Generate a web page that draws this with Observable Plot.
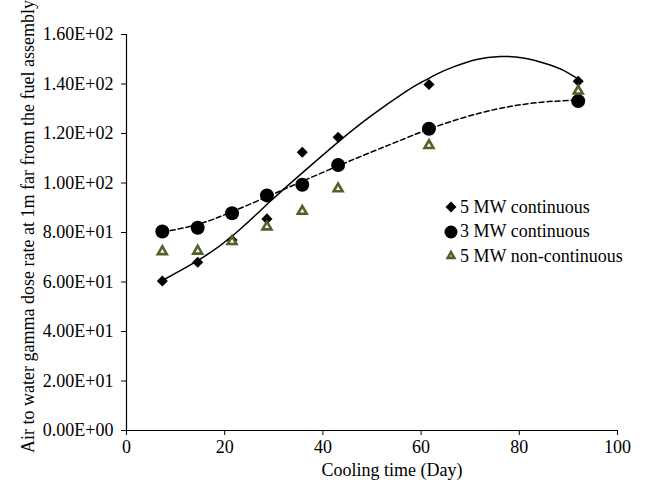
<!DOCTYPE html>
<html><head><meta charset="utf-8">
<script src="https://cdn.jsdelivr.net/npm/d3@7"></script>
<script src="https://cdn.jsdelivr.net/npm/@observablehq/plot@0.6"></script>
<style>
body{margin:0;background:#fff;}
#wrap{position:relative;width:656px;height:488px;font-family:'Liberation Serif',serif;}
#legend{position:absolute;left:444px;top:195px;font-size:18px;color:#000;font-family:'Liberation Serif',serif;}
.row{display:flex;align-items:center;height:24.5px;white-space:nowrap;}
.row svg{width:14px;height:14px;margin-right:2px;overflow:visible}
</style></head><body><div id="wrap"><div id="legend"></div></div>
<script>
// ---- data ----
const coolingDays = [7.3, 14.5, 21.5, 28.6, 35.8, 43.1, 61.6, 92];
const mw5Continuous = [60.4, 68.0, 77.0, 85.5, 112.4, 118.5, 139.8, 141.1];
const mw3Continuous = [80.4, 81.9, 87.8, 95.0, 99.3, 107.3, 121.9, 133.1];
const mw5NonContinuous = [72.3, 72.5, 76.4, 82.3, 88.6, 97.7, 115.2, 137.2];

// trend lines
const trend5cX = [7.3, 14.4, 21.5, 29.3, 36.1, 42.9, 49.6, 57.1, 60, 63.2, 66.6, 71.3, 76.1, 80.8, 85.6, 89, 92];
const trend5cY = [60.6, 68.5, 78.5, 92.6, 104.6, 116.2, 126.8, 137.2, 140.6, 144.0, 146.9, 149.9, 151.1, 150.5, 148.1, 145.5, 142.0];
const trend3cX = [7.3, 14.4, 21.5, 29.3, 35.7, 43.2, 50, 55, 61.2, 68.6, 75, 80.2, 86, 92];
const trend3cY = [80.2, 83.2, 88.4, 95.0, 100.6, 107.0, 112.6, 116.6, 121.5, 126.4, 129.7, 131.6, 132.9, 133.4];

const seriesNames = ["5 MW continuous", "3 MW continuous", "5 MW non-continuous"];
const xTicks = [0, 20, 40, 60, 80, 100];
const yTicks = [0, 20, 40, 60, 80, 100, 120, 140, 160];
const xLabel = "Cooling time (Day)";
const yLabel = "Air to water gamma dose rate at 1m far from the fuel assembly";

const serif = "'Liberation Serif', serif";
const olive = "#4f6228";
function sci(v) {
  const [m, e] = v.toExponential(2).split("e");
  const n = +e;
  return m + "E" + (n < 0 ? "-" : "+") + String(Math.abs(n)).padStart(2, "0");
}
const pts = (ys) => coolingDays.map((d, i) => ({x: d, y: ys[i]}));
const tr = (xs, ys) => xs.map((d, i) => ({x: d, y: ys[i]}));

const chart = Plot.plot({
  width: 656, height: 488,
  marginLeft: 126, marginRight: 39, marginTop: 34, marginBottom: 58,
  style: {fontFamily: serif, fontSize: "18px", color: "#000", background: "#fff"},
  x: {domain: [0, 100]},
  y: {domain: [0, 160]},
  marks: [
    Plot.axisX({ticks: xTicks, tickSize: 5, tickPadding: 5, label: null, stroke: "#000", fill: "#000", fontFamily: serif, fontSize: 18}),
    Plot.axisY({ticks: yTicks, tickSize: 5, tickPadding: 8, tickFormat: sci, label: null, stroke: "#000", fill: "#000", fontFamily: serif, fontSize: 18}),
    Plot.ruleX([0], {stroke: "#000", strokeWidth: 1.2}),
    Plot.ruleY([0], {stroke: "#000", strokeWidth: 1.2}),
    Plot.line(tr(trend5cX, trend5cY), {x: "x", y: "y", curve: "natural", stroke: "#000", strokeWidth: 1.5}),
    Plot.line(tr(trend3cX, trend3cY), {x: "x", y: "y", curve: "natural", stroke: "#000", strokeWidth: 1.5, strokeDasharray: "5,3"}),
    Plot.dot(pts(mw5Continuous), {x: "x", y: "y", symbol: "diamond2", r: 5, fill: "#000", stroke: "none"}),
    Plot.dot(pts(mw3Continuous), {x: "x", y: "y", symbol: "circle", r: 7, fill: "#000", stroke: "none"}),
    Plot.dot(pts(mw5NonContinuous), {x: "x", y: "y", symbol: "triangle", r: 3.3, fill: "#fff", stroke: olive, strokeWidth: 2.6}),
    Plot.text([xLabel], {frameAnchor: "bottom", lineAnchor: "middle", textAnchor: "middle", dy: 40, dx: 20, fontSize: 18, fontFamily: serif, fill: "#000"}),
    Plot.text([yLabel], {frameAnchor: "left", lineAnchor: "middle", textAnchor: "middle", rotate: -90, dx: -98, dy: -6, fontSize: 18, fontFamily: serif, fill: "#000"})
  ]
});
document.getElementById("wrap").prepend(chart);

// legend
const legendSymbols = [
  '<svg viewBox="-7 -7 14 14"><path d="M0,-5.5L5.5,0L0,5.5L-5.5,0Z" fill="#000"/></svg>',
  '<svg viewBox="-7 -7 14 14"><circle r="6.5" fill="#000"/></svg>',
  `<svg viewBox="-7 -7 14 14"><path d="M0,-3.8L3.3,1.9L-3.3,1.9Z" fill="#fff" stroke="${olive}" stroke-width="2.6"/></svg>`
];
const legend = document.getElementById("legend");
seriesNames.forEach((name, i) => {
  const row = document.createElement("div");
  row.className = "row";
  row.innerHTML = legendSymbols[i] + "<span>" + name + "</span>";
  legend.appendChild(row);
});
</script>
</body></html>
